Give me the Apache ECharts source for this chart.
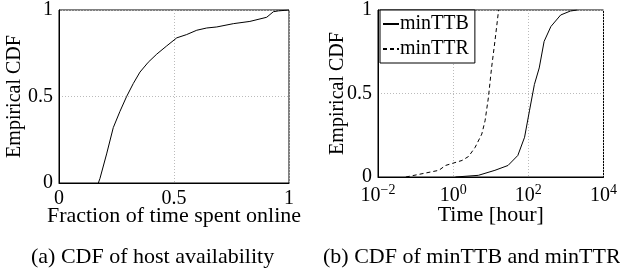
<!DOCTYPE html>
<html>
<head>
<meta charset="utf-8">
<script src="https://cdn.jsdelivr.net/npm/echarts@6/dist/echarts.min.js"></script>
<style>
  html, body { margin: 0; padding: 0; background: #fff; }
  #chart { width: 620px; height: 272px; }
</style>
</head>
<body>
<div id="chart"></div>
<script>
// (a) host availability: fraction of time online vs CDF
var availX = [0.171, 0.178, 0.207, 0.236, 0.265, 0.294, 0.323, 0.352, 0.388, 0.425, 0.468, 0.512, 0.555, 0.599, 0.642, 0.686, 0.758, 0.830, 0.903, 0.932, 0.954, 1.0];
var availY = [0, 0.026, 0.168, 0.32, 0.414, 0.5, 0.575, 0.641, 0.698, 0.745, 0.792, 0.839, 0.858, 0.883, 0.896, 0.902, 0.921, 0.934, 0.958, 0.99, 0.995, 1.0];

// (b) times in hours
var ttrHours = [0.055, 0.124, 0.417, 0.624, 1.0, 1.72, 2.57, 3.85, 5.77, 7.06, 8.65, 10.5, 12.9, 16.2];
var ttrCdf   = [0, 0.016, 0.04, 0.069, 0.083, 0.099, 0.123, 0.178, 0.257, 0.337, 0.475, 0.653, 0.812, 1.0];
var ttbHours = [1.15, 4.68, 12.9, 28.8, 52.5, 79.4, 107, 145, 195, 263, 398, 724, 1318, 1995];
var ttbCdf   = [0, 0.01, 0.04, 0.069, 0.129, 0.238, 0.396, 0.554, 0.653, 0.812, 0.901, 0.97, 0.994, 1.0];

var serif = "'Liberation Serif', 'Times New Roman', serif";

function pairs(xs, ys) {
    var out = [];
    for (var i = 0; i < xs.length; i++) out.push([xs[i], ys[i]]);
    return out;
}

var split = { show: true, lineStyle: { color: '#bbb', type: [1, 2], width: 1 } };
var tickLbl = { color: '#000', fontFamily: serif, fontSize: 20 };
var nameStyle = { color: '#000', fontFamily: serif, fontSize: 20 };
var xNameStyle = { color: '#000', fontFamily: serif, fontSize: 22 };
var capStyle = { color: '#000', fontFamily: serif, fontSize: 22, fontWeight: 'normal' };

function yAxisFor(idx, gap) {
    return {
        type: 'value', gridIndex: idx, min: 0, max: 1, interval: 0.5,
        name: 'Empirical CDF', nameLocation: 'middle', nameGap: gap, nameMoveOverlap: false,
        nameTextStyle: nameStyle,
        axisLine: { show: true, lineStyle: { color: '#000', width: 1 } },
        axisTick: { show: false },
        axisLabel: Object.assign({ margin: 6, formatter: function (v) { return String(v); } }, tickLbl),
        splitLine: split
    };
}

var chart = echarts.init(document.getElementById('chart'), null, { renderer: 'canvas' });
chart.setOption({
    animation: false,
    backgroundColor: '#fff',
    textStyle: { fontFamily: serif },
    title: [
        { text: '(a) CDF of host availability', left: 31, top: 246, padding: 0, textStyle: capStyle },
        { text: '(b) CDF of minTTB and minTTR', left: 323, top: 246, padding: 0, textStyle: capStyle }
    ],
    legend: {
        data: ['minTTB', 'minTTR'],
        orient: 'vertical',
        left: 380, top: 10,
        backgroundColor: '#fff',
        borderColor: '#000', borderWidth: 1,
        padding: [4, 6, 4, 2],
        itemWidth: 16, itemHeight: 10, itemGap: 5,
        itemStyle: { opacity: 0 },
        textStyle: { color: '#000', fontFamily: serif, fontSize: 20, padding: [0, 0, 0, -4] }
    },
    grid: [
        { left: 59, top: 7, width: 230, height: 176, show: true, borderColor: '#000', borderWidth: 1 },
        { left: 378, top: 8, width: 229, height: 169, show: true, borderColor: '#000', borderWidth: 1 }
    ],
    xAxis: [
        {
            type: 'value', gridIndex: 0, min: 0, max: 1, interval: 0.5,
            name: 'Fraction of time spent online', nameLocation: 'middle', nameGap: 22, nameMoveOverlap: false,
            nameTextStyle: xNameStyle,
            axisLine: { show: true, lineStyle: { color: '#000', width: 1 } },
            axisTick: { show: false },
            axisLabel: Object.assign({ margin: 6, formatter: function (v) { return String(v); } }, tickLbl),
            splitLine: split
        },
        {
            type: 'log', gridIndex: 1, logBase: 10, min: 0.01, max: 10000, interval: 2,
            name: 'Time [hour]', nameLocation: 'middle', nameGap: 27, nameMoveOverlap: false,
            nameTextStyle: xNameStyle,
            axisLine: { show: true, lineStyle: { color: '#000', width: 1 } },
            axisTick: { show: false },
            axisLabel: {
                margin: 6,
                formatter: function (v) {
                    var e = Math.round(Math.log10(v));
                    return '{b|10}{s|' + (e < 0 ? '\u2212' : '') + Math.abs(e) + '}';
                },
                rich: {
                    b: { color: '#000', fontFamily: serif, fontSize: 20 },
                    s: { color: '#000', fontFamily: serif, fontSize: 14, padding: [0, 0, 12, 0] }
                }
            },
            splitLine: split
        }
    ],
    yAxis: [yAxisFor(0, 34), yAxisFor(1, 30)],
    series: [
        {
            name: 'availability', type: 'line', xAxisIndex: 0, yAxisIndex: 0,
            data: pairs(availX, availY), symbol: 'none',
            lineStyle: { color: '#000', width: 1 }
        },
        {
            name: 'minTTB', type: 'line', xAxisIndex: 1, yAxisIndex: 1,
            data: pairs(ttbHours, ttbCdf), symbol: 'none',
            itemStyle: { color: '#000' },
            lineStyle: { color: '#000', width: 1 }
        },
        {
            name: 'minTTR', type: 'line', xAxisIndex: 1, yAxisIndex: 1,
            data: pairs(ttrHours, ttrCdf), symbol: 'none',
            itemStyle: { color: '#000' },
            lineStyle: { color: '#000', width: 1, type: [4, 3] }
        }
    ]
});
</script>
</body>
</html>
